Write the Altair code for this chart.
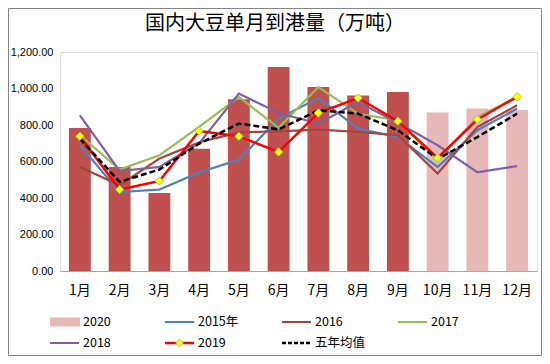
import altair as alt
import pandas as pd

months = ["1月", "2月", "3月", "4月", "5月", "6月", "7月", "8月", "9月", "10月", "11月", "12月"]
bar_2020 = [783, 570, 427, 670, 941, 1118, 1008, 961, 981, 868, 891, 882]
bar_kind = ["实际"] * 9 + ["预估"] * 3
s2015 = [689, 433, 446, 540, 610, 835, 948, 780, 734, 570, 771, 890]
s2016 = [570, 470, 616, 705, 760, 765, 775, 762, 744, 534, 789, 908]
s2017 = [744, 556, 634, 790, 953, 785, 1008, 862, 825, 607, 844, 953]
s2018 = [853, 548, 570, 700, 972, 866, 808, 926, 812, 689, 541, 575]
s2019 = [738, 446, 493, 767, 738, 652, 866, 948, 821, 620, 830, 955]
avg5 = [725, 488, 556, 698, 808, 776, 880, 862, 771, 614, 734, 862]

series_names = ["2015年", "2016", "2017", "2018", "2019", "五年均值"]
series_vals = [s2015, s2016, s2017, s2018, s2019, avg5]
series_colors = ["#4F81BD", "#A8423F", "#9BBB59", "#7F5FA0", "#FF0000", "#000000"]
y_ticks = [0, 200, 400, 600, 800, 1000, 1200]
title_text = "国内大豆单月到港量（万吨）"

FONT = "Noto Sans CJK SC"

bars_df = pd.DataFrame({"month": months, "value": bar_2020, "kind": bar_kind})
rows = []
for name, vals in zip(series_names, series_vals):
    for m, v in zip(months, vals):
        rows.append({"month": m, "value": v, "series": name})
lines_df = pd.DataFrame(rows)


def x_enc():
    return alt.X("month:N", sort=months,
                 scale=alt.Scale(paddingInner=0.45, paddingOuter=0.225),
                 axis=alt.Axis(title=None, labelAngle=0))


def y_enc():
    return alt.Y("value:Q", scale=alt.Scale(domain=[0, 1200], nice=False),
                 axis=alt.Axis(title=None, values=y_ticks, format=",.2f"))


bars = alt.Chart(bars_df).mark_bar().encode(
    x=x_enc(),
    y=y_enc(),
    color=alt.Color("kind:N", scale=alt.Scale(domain=["实际", "预估"], range=["#C0504D", "#E6B8B7"]),
                    legend=None),
)

layers = [bars]
for name, col in zip(series_names, series_colors):
    dash = [6, 3] if name == "五年均值" else [1, 0]
    width = 2.5 if name in ("2019", "五年均值") else 2.2
    ln = alt.Chart(lines_df).transform_filter(alt.datum.series == name).mark_line(
        color=col, strokeWidth=width, strokeDash=dash
    ).encode(x=x_enc(), y=y_enc())
    layers.append(ln)

pts = alt.Chart(lines_df).transform_filter(alt.datum.series == "2019").mark_point(
    shape="diamond", size=70, filled=True, fill="#FFFF00", stroke="#92D050", strokeWidth=1, opacity=1
).encode(x=x_enc(), y=y_enc())
layers.append(pts)

# Legend (drawn as decoration; positions relative to plot origin)
legend_items = [
    ("2020", "rect", "#E6B8B7", -10, 270),
    ("2015年", "line", "#4F81BD", 105, 270),
    ("2016", "line", "#A8423F", 222, 270),
    ("2017", "line", "#9BBB59", 338, 270),
    ("2018", "line", "#7F5FA0", -10, 291),
    ("2019", "diamond", "#FF0000", 105, 291),
    ("五年均值", "dash", "#000000", 222, 291),
]
one = pd.DataFrame({"a": [0]})
for label, kind, col, lx, ly in legend_items:
    if kind == "rect":
        sym = alt.Chart(one).mark_rect(color=col).encode(
            x=alt.value(lx), x2=alt.value(lx + 30), y=alt.value(ly - 4.5), y2=alt.value(ly + 4.5))
        layers.append(sym)
    else:
        sym = alt.Chart(one).mark_rule(
            color=col, strokeWidth=2.5 if kind != "line" else 2.2,
            strokeDash=[4, 2] if kind == "dash" else [1, 0]).encode(
            x=alt.value(lx), x2=alt.value(lx + 29), y=alt.value(ly))
        layers.append(sym)
        if kind == "diamond":
            d = alt.Chart(one).mark_point(shape="diamond", size=60, filled=True, fill="#FFFF00",
                                          stroke="#92D050", strokeWidth=1, opacity=1).encode(
                x=alt.value(lx + 14.5), y=alt.value(ly))
            layers.append(d)
    txt = alt.Chart(one).mark_text(text=label, align="left", baseline="middle", fontSize=12.5,
                                   font=FONT, color="#000000").encode(
        x=alt.value(lx + 33), y=alt.value(ly))
    layers.append(txt)

# outer frame
frame = alt.Chart(one).mark_rect(fill=None, stroke="#868686", strokeWidth=1).encode(
    x=alt.value(-51.5), x2=alt.value(481.5), y=alt.value(-43.5), y2=alt.value(303.5))
layers.append(frame)

# title
ttl = alt.Chart(one).mark_text(text=title_text, align="center", baseline="middle", fontSize=20,
                               font=FONT, color="#000000").encode(
    x=alt.value(215), y=alt.value(-28))
layers.append(ttl)

chart = (
    alt.layer(*layers)
    .properties(
        width=477, height=219,
        autosize=alt.AutoSizeParams(type="none"),
        padding={"left": 52, "top": 44, "right": 5, "bottom": 85},
    )
    .configure_view(stroke=None)
    .configure(background="#FFFFFF")
    .configure_axisX(ticks=False, domainColor="#A6A6A6", labelFontSize=14, labelPadding=12,
                     labelColor="#000000", labelFont=FONT, grid=False)
    .configure_axisY(grid=False, domain=False, ticks=False, labelFontSize=11, labelPadding=7,
                     labelColor="#000000", labelFont="Liberation Sans", labelOverlap=False,
                     labelFlush=False)
)

chart.save("out.html", embed_options={"renderer": "svg", "actions": False})
